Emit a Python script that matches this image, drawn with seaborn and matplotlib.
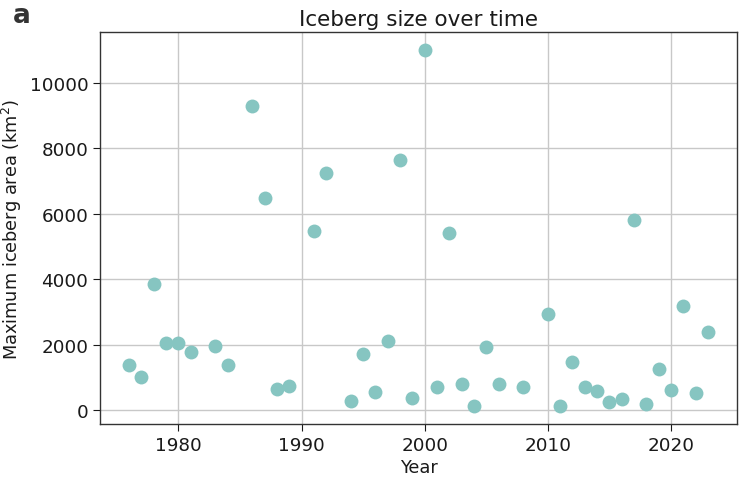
import matplotlib
matplotlib.use("Agg")
import matplotlib.pyplot as plt
import seaborn as sns
import pandas as pd

years = [1976, 1977, 1978, 1979, 1980, 1981, 1983, 1984, 1986, 1987, 1988, 1989,
         1991, 1992, 1994, 1995, 1996, 1997, 1998, 1999, 2000, 2001, 2002, 2003,
         2004, 2005, 2006, 2008, 2010, 2011, 2012, 2013, 2014, 2015, 2016, 2017,
         2018, 2019, 2020, 2021, 2022, 2023]
areas = [1400, 1020, 3860, 2050, 2060, 1780, 1960, 1380, 9280, 6490, 670, 750,
         5470, 7250, 290, 1710, 570, 2110, 7640, 370, 11010, 720, 5430, 820,
         145, 1925, 805, 705, 2935, 135, 1490, 725, 590, 260, 350, 5800,
         195, 1255, 635, 3190, 545, 2395]

df = pd.DataFrame({"Year": years, "Area": areas})

sns.set_style("ticks")
plt.rcParams['font.family'] = ['DejaVu Sans']

fig = plt.figure(figsize=(7.42, 4.85), dpi=100)
ax = fig.add_axes([0.135, 0.124, 0.858, 0.808])

sns.scatterplot(data=df, x="Year", y="Area", ax=ax, color="#86c5c1",
                s=100, linewidth=0, zorder=3)

ax.grid(True, color="#c8c8c8", linewidth=1.0, zorder=0)
ax.set_axisbelow(True)
for sp in ax.spines.values():
    sp.set_color("#333333")
    sp.set_linewidth(1.0)
ax.tick_params(axis="both", labelsize=13.2, colors="#1a1a1a", length=5)
ax.set_xticks([1980, 1990, 2000, 2010, 2020])
ax.set_yticks([0, 2000, 4000, 6000, 8000, 10000])
ax.set_xlabel("Year", fontsize=12.8, color="#1a1a1a", labelpad=3)
ax.set_ylabel("Maximum iceberg area (km$^2$)", fontsize=12.8, color="#1a1a1a")
ax.set_title("Iceberg size over time", fontsize=15.5, color="#1a1a1a", pad=5)
fig.text(0.018, 0.968, "a", fontsize=19, fontweight="bold", color="#333333",
         va="center", ha="left")

fig.savefig("out.png", dpi=100)
